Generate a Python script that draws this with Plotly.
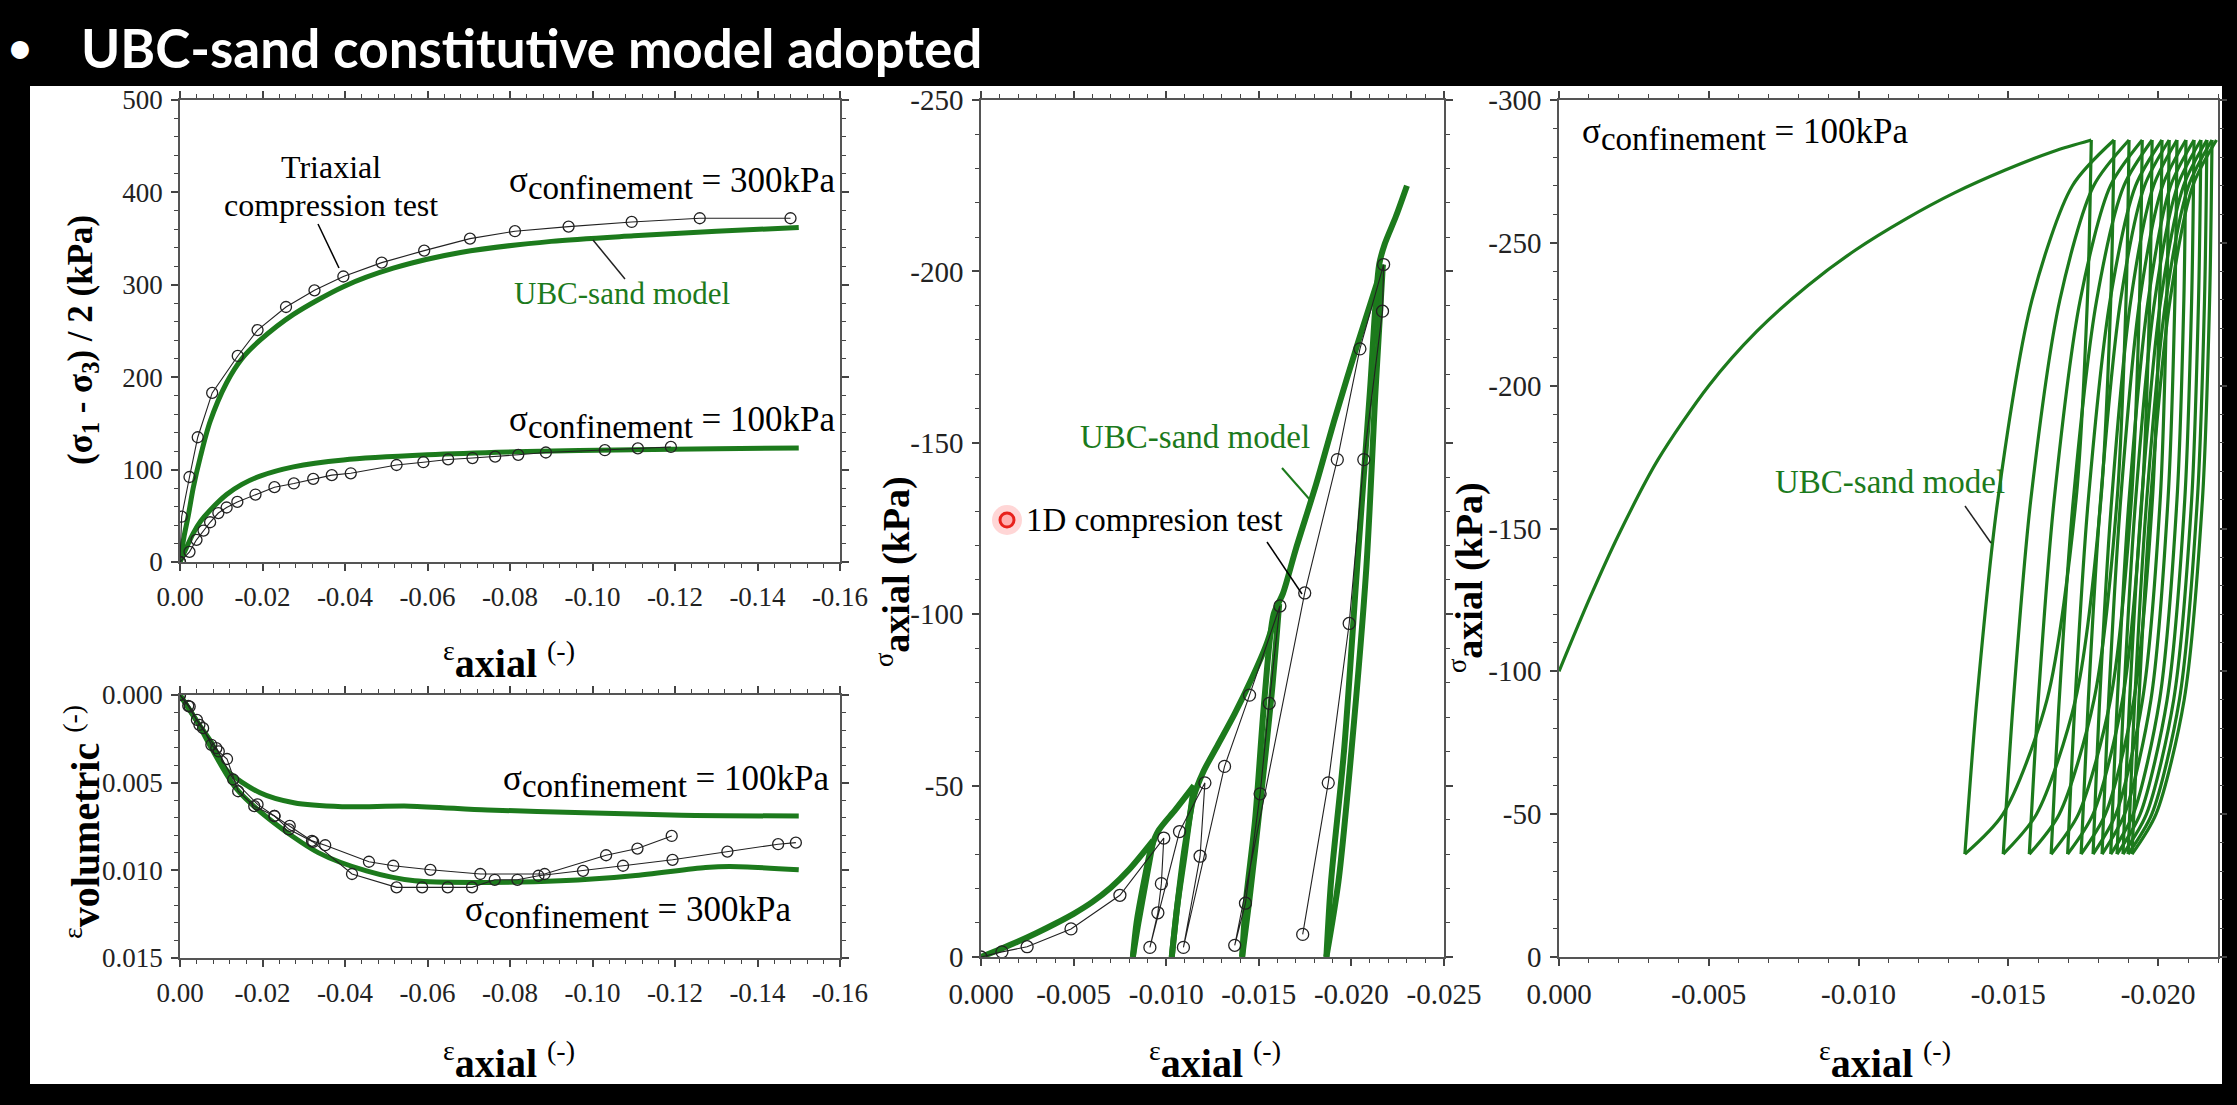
import plotly.graph_objects as go

W, H = 2237, 1105
GREEN = "#1c7a1c"
SERIF = "Liberation Serif"

# ---------------- data ----------------
# Top-left panel: (s1-s3)/2 vs axial strain
tl_test300_x = [0, -0.0004, -0.0023, -0.0043, -0.0078, -0.0140, -0.0188, -0.0257, -0.0326, -0.0396,
                -0.0489, -0.0592, -0.0703, -0.0812, -0.0942, -0.1095, -0.1260, -0.1480]
tl_test300_y = [0, 49, 92, 135, 183, 223, 251, 276, 294, 309, 324, 337, 350, 358, 363, 368, 372, 372]
tl_model300_x = [0, -0.001, -0.002, -0.0032, -0.005, -0.0073, -0.0113, -0.015, -0.0194, -0.0275,
                 -0.0396, -0.0517, -0.068, -0.09, -0.11, -0.13, -0.15]
tl_model300_y = [0, 28, 50, 80, 115, 152, 194, 220, 240, 268, 298, 318, 335, 347, 353, 358, 362]
tl_test100_x = [0, -0.0023, -0.004, -0.0057, -0.0073, -0.0093, -0.0113, -0.0139, -0.0183, -0.0229,
                -0.0276, -0.0323, -0.0368, -0.0414, -0.0525, -0.059, -0.065, -0.0709, -0.0764, -0.082,
                -0.0887, -0.103, -0.111, -0.119]
tl_test100_y = [0, 11, 24, 34, 43, 53, 59, 65, 73, 81, 85, 90, 94, 96, 105, 108, 111, 112.5, 114, 116,
                118.5, 121, 123, 124.5]
tl_model100_x = [0, -0.0015, -0.0032, -0.005, -0.0073, -0.0113, -0.015, -0.0194, -0.0275, -0.0396,
                 -0.06, -0.084, -0.11, -0.13, -0.15]
tl_model100_y = [0, 15, 31, 44, 56, 73, 84, 93, 103, 110.5, 116, 119.5, 121.5, 122.5, 123.5]

# Bottom-left panel: volumetric strain vs axial strain
bl_test300_x = [0, -0.00235, -0.0041, -0.0056, -0.0076, -0.0094, -0.0114, -0.0141, -0.018, -0.0229,
                -0.0264, -0.0323, -0.0417, -0.0525, -0.0587, -0.0649, -0.0708, -0.0763, -0.0818,
                -0.0869, -0.0977, -0.1074, -0.1194, -0.1327, -0.145, -0.1493]
bl_test300_y = [0, 0.00066, 0.00142, 0.00189, 0.00284, 0.00322, 0.00365, 0.00549, 0.00634, 0.0069,
                0.00766, 0.00838, 0.01021, 0.01097, 0.01097, 0.01097, 0.01097, 0.01054, 0.01054,
                0.01031, 0.01003, 0.00974, 0.0094, 0.00893, 0.00851, 0.00842]
bl_test100_x = [0, -0.002, -0.0047, -0.0088, -0.0129, -0.0188, -0.0229, -0.0266, -0.032, -0.0352,
                -0.0458, -0.0517, -0.0607, -0.0728, -0.0884, -0.1033, -0.1109, -0.1192]
bl_test100_y = [0, 0.00062, 0.0017, 0.00303, 0.00482, 0.00624, 0.0069, 0.00747, 0.00832, 0.00857,
                0.00951, 0.00974, 0.00997, 0.01021, 0.01021, 0.00914, 0.00876, 0.00804]
bl_model100_x = [0, -0.0041, -0.0076, -0.0112, -0.0194, -0.0276, -0.0393, -0.0558, -0.0745, -0.098,
                 -0.1215, -0.150]
bl_model100_y = [0, 0.0015, 0.0027, 0.00426, 0.00558, 0.00615, 0.00637, 0.00634, 0.00656, 0.00671,
                 0.00686, 0.0069]
bl_model300_x = [0, -0.0041, -0.0076, -0.0135, -0.0217, -0.0335, -0.0452, -0.0569, -0.0745, -0.0922,
                 -0.1098, -0.1274, -0.1333, -0.150]
bl_model300_y = [0, 0.0015, 0.00303, 0.0053, 0.00709, 0.00899, 0.01003, 0.0106, 0.01069, 0.0106,
                 0.01031, 0.00984, 0.00978, 0.00997]

# Middle panel: 1D compression with unload/reload
mid_test_x = [0, -0.00113, -0.00249, -0.00486, -0.0075, -0.00987, -0.00974, -0.00955, -0.00912,
              -0.01072, -0.01209, -0.01183, -0.01093, -0.01315, -0.0145, -0.01614, -0.01556, -0.01507,
              -0.01428, -0.0137, -0.01748, -0.01924, -0.02046, -0.02174, -0.02168, -0.02067, -0.01988,
              -0.01875, -0.01737]
mid_test_y = [0, -1.5, -3.0, -8.2, -18, -34.7, -21.4, -12.9, -2.8, -36.6, -50.8, -29.4, -2.8, -55.6,
              -76.4, -102.4, -74, -47.6, -15.7, -3.4, -106.2, -145.1, -177.4, -202, -188.4, -145.1,
              -97.3, -50.8, -6.6]
# model branches (load / unload / reload ...)
mid_model_x = [
    [0, -0.001, -0.002, -0.003, -0.004, -0.005, -0.006, -0.007, -0.008, -0.0093],
    [-0.0093, -0.0089, -0.0085, -0.0082],
    [-0.0082, -0.0084, -0.0088, -0.0092, -0.0096, -0.0105, -0.0115],
    [-0.0115, -0.0110, -0.0106, -0.0103],
    [-0.0103, -0.0106, -0.0110, -0.0115, -0.0120, -0.0128, -0.0137, -0.0146, -0.0154, -0.0161],
    [-0.0161, -0.0157, -0.0150, -0.0145, -0.0141],
    [-0.0141, -0.0143, -0.0148, -0.0153, -0.0158, -0.0163, -0.0170, -0.0181, -0.0191, -0.0204, -0.0217],
    [-0.0217, -0.0213, -0.0208, -0.0200, -0.0193, -0.01865],
    [-0.01865, -0.0189, -0.0196, -0.0203, -0.0210, -0.0215, -0.0218, -0.0224, -0.0230],
]
mid_model_y = [
    [0, -2.2, -4.5, -7.0, -9.7, -12.6, -16.0, -20.2, -25.5, -34],
    [-34, -22, -10, 0],
    [0, -10, -22, -32, -37, -43, -50],
    [-50, -30, -15, 0],
    [0, -15, -32, -47, -54, -62, -71, -81, -91, -103],
    [-103, -77, -41, -17, 0],
    [0, -16, -40, -75, -100, -106, -119, -138, -157, -180, -202],
    [-202, -165, -113, -60, -22, 0],
    [0, -22, -60, -113, -165, -202, -208, -216, -225],
]

# Right panel: cyclic loading, UBC-sand model
r_load_x = [0, -0.001, -0.002, -0.0033, -0.005, -0.0066, -0.0083, -0.0099, -0.0116, -0.0132,
            -0.0149, -0.0165, -0.01777]
r_load_y = [-100, -125, -148, -174, -200, -219, -235, -247.5, -258.5, -267.5, -275.5, -282, -286]
r_unload_y = [-286, -230, -160, -90, -50, -36]
r_unload_x = [
    [-0.01777, -0.01764, -0.01726, -0.01629, -0.01482, -0.01355],
    [-0.01853, -0.01842, -0.01809, -0.01724, -0.01594, -0.01483],
    [-0.01903, -0.01893, -0.01863, -0.01786, -0.01670, -0.01570],
    [-0.01947, -0.01938, -0.01911, -0.01841, -0.01734, -0.01643],
    [-0.01980, -0.01972, -0.01946, -0.01881, -0.01783, -0.01698],
    [-0.02013, -0.02005, -0.01981, -0.01919, -0.01824, -0.01743],
    [-0.02037, -0.02029, -0.02007, -0.01948, -0.01859, -0.01783],
    [-0.02063, -0.02056, -0.02033, -0.01976, -0.01888, -0.01813],
    [-0.02093, -0.02086, -0.02063, -0.02005, -0.01917, -0.01842],
    [-0.02120, -0.02112, -0.02089, -0.02030, -0.01940, -0.01863],
    [-0.02143, -0.02135, -0.02112, -0.02052, -0.01961, -0.01883],
    [-0.02163, -0.02155, -0.02131, -0.02071, -0.01979, -0.01900],
    [-0.02180, -0.02172, -0.02148, -0.02087, -0.01993, -0.01913],
]
r_reload_y = [-36, -90, -160, -230, -270, -286]
r_reload_x = [
    [-0.01355, -0.01395, -0.01465, -0.01579, -0.01714, -0.01853],
    [-0.01483, -0.01517, -0.01575, -0.01672, -0.01785, -0.01903],
    [-0.01570, -0.01600, -0.01653, -0.01740, -0.01841, -0.01947],
    [-0.01643, -0.01670, -0.01717, -0.01795, -0.01886, -0.01980],
    [-0.01698, -0.01723, -0.01767, -0.01840, -0.01925, -0.02013],
    [-0.01743, -0.01767, -0.01808, -0.01875, -0.01955, -0.02037],
    [-0.01783, -0.01805, -0.01845, -0.01909, -0.01985, -0.02063],
    [-0.01813, -0.01835, -0.01875, -0.01939, -0.02015, -0.02093],
    [-0.01842, -0.01864, -0.01903, -0.01967, -0.02042, -0.02120],
    [-0.01863, -0.01885, -0.01925, -0.01989, -0.02065, -0.02143],
    [-0.01883, -0.01905, -0.01945, -0.02009, -0.02085, -0.02163],
    [-0.01900, -0.01922, -0.01962, -0.02026, -0.02102, -0.02180],
    [-0.01913, -0.01936, -0.01975, -0.02040, -0.02116, -0.02195],
]

# ticks
tl_x_ticks = [0, -0.02, -0.04, -0.06, -0.08, -0.10, -0.12, -0.14, -0.16]
tl_x_text = ["0.00", "-0.02", "-0.04", "-0.06", "-0.08", "-0.10", "-0.12", "-0.14", "-0.16"]
tl_y_ticks = [0, 100, 200, 300, 400, 500]
tl_y_text = ["0", "100", "200", "300", "400", "500"]
bl_y_ticks = [0, 0.005, 0.010, 0.015]
bl_y_text = ["0.000", "0.005", "0.010", "0.015"]
mid_x_ticks = [0, -0.005, -0.010, -0.015, -0.020, -0.025]
mid_x_text = ["0.000", "-0.005", "-0.010", "-0.015", "-0.020", "-0.025"]
mid_y_ticks = [0, -50, -100, -150, -200, -250]
mid_y_text = ["0", "-50", "-100", "-150", "-200", "-250"]
r_x_ticks = [0, -0.005, -0.010, -0.015, -0.020]
r_x_text = ["0.000", "-0.005", "-0.010", "-0.015", "-0.020"]
r_y_ticks = [0, -50, -100, -150, -200, -250, -300]
r_y_text = ["0", "-50", "-100", "-150", "-200", "-250", "-300"]

# ---------------- figure ----------------
def fx(p):
    return p / W


def fy(p):
    return 1 - p / H


fig = go.Figure()


def add_line(x, y, xa, ya, color, width, shape="linear"):
    fig.add_trace(go.Scatter(x=x, y=y, xaxis=xa, yaxis=ya, mode="lines",
                             line=dict(color=color, width=width, shape=shape, smoothing=0.8),
                             showlegend=False, hoverinfo="skip"))


def add_test(x, y, xa, ya, size=11):
    fig.add_trace(go.Scatter(x=x, y=y, xaxis=xa, yaxis=ya, mode="lines+markers",
                             line=dict(color="#222", width=1.1),
                             marker=dict(symbol="circle-open", size=size, color="#222",
                                         line=dict(width=1.3)),
                             showlegend=False, hoverinfo="skip"))


# top-left
add_line(tl_model300_x, tl_model300_y, "x", "y", GREEN, 5, "spline")
add_line(tl_model100_x, tl_model100_y, "x", "y", GREEN, 5, "spline")
add_test(tl_test300_x, tl_test300_y, "x", "y")
add_test(tl_test100_x, tl_test100_y, "x", "y")
# bottom-left
add_line(bl_model100_x, bl_model100_y, "x2", "y2", GREEN, 5, "spline")
add_line(bl_model300_x, bl_model300_y, "x2", "y2", GREEN, 5, "spline")
add_test(bl_test300_x, bl_test300_y, "x2", "y2")
add_test(bl_test100_x, bl_test100_y, "x2", "y2")
# middle
for bx, by in zip(mid_model_x, mid_model_y):
    add_line(bx, by, "x3", "y3", GREEN, 6, "spline")
add_test(mid_test_x, mid_test_y, "x3", "y3", size=12)
# right
add_line(r_load_x, r_load_y, "x4", "y4", GREEN, 3.2, "spline")
for ux, rlx in zip(r_unload_x, r_reload_x):
    add_line(ux, r_unload_y, "x4", "y4", GREEN, 3.2, "spline")
    add_line(rlx, r_reload_y, "x4", "y4", GREEN, 3.2, "spline")

# axes
panels = {
    1: ([0, -0.16], [0, 500], tl_x_ticks, tl_x_text, 0.004, tl_y_ticks, tl_y_text, 20, (180, 840), (100, 562), 27),
    2: ([0, -0.16], [0.015, 0], tl_x_ticks, tl_x_text, 0.004, bl_y_ticks, bl_y_text, 0.001, (180, 840), (695, 958), 27),
    3: ([0, -0.025], [0, -250], mid_x_ticks, mid_x_text, 0.001, mid_y_ticks, mid_y_text, 10, (981, 1444), (100, 957), 29),
    4: ([0, -0.022], [0, -300], r_x_ticks, r_x_text, 0.001, r_y_ticks, r_y_text, 10, (1559, 2218), (100, 957), 29),
}


def make_axis(rng, tv, tt, mdt, dom, anchor, ticks, labels, fs, overlaying=None):
    d = dict(range=rng, domain=dom, anchor=anchor, tickmode="array", tickvals=tv, ticktext=tt,
             ticks=ticks, ticklen=7, tickwidth=1.5, tickcolor="#444", automargin=False,
             showline=True, linecolor="#555", linewidth=1.5, mirror="allticks",
             showgrid=False, zeroline=False, showticklabels=labels,
             tickfont=dict(family=SERIF, size=fs, color="#222"), ticklabelstandoff=3,
             minor=dict(tickmode="linear", tick0=0, dtick=mdt, ticks=ticks, ticklen=4,
                        tickwidth=1.2, tickcolor="#444", showgrid=False))
    if overlaying:
        d["overlaying"] = overlaying
    return d


layout_axes = {}
for i, (xr, yr, xtv, xtt, xm, ytv, ytt, ym, xd, yd, fs) in panels.items():
    xdom = [fx(xd[0]), fx(xd[1])]
    ydom = [fy(yd[1]), fy(yd[0])]
    sx = "" if i == 1 else str(i)
    layout_axes["xaxis" + sx] = make_axis(xr, xtv, xtt, xm, xdom, "y" + sx, "outside", True, fs)
    layout_axes["yaxis" + sx] = make_axis(yr, ytv, ytt, ym, ydom, "x" + sx, "outside", True, fs)
    j = i + 4
    layout_axes["xaxis%d" % j] = make_axis(xr, xtv, xtt, xm, xdom, "y" + sx, "inside", False, fs,
                                           overlaying="x" + sx)
    layout_axes["yaxis%d" % j] = make_axis(yr, ytv, ytt, ym, ydom, "x" + sx, "inside", False, fs,
                                           overlaying="y" + sx)

fig.update_layout(**layout_axes)

anns = []


def ann(text, x, y, size=33, color="black", family=SERIF, angle=0, xanchor="center", yanchor="middle"):
    anns.append(dict(text=text, x=fx(x), y=fy(y), xref="paper", yref="paper", showarrow=False,
                     font=dict(family=family, size=size, color=color), textangle=angle,
                     xanchor=xanchor, yanchor=yanchor))


# title
ann("•", 20, 46, size=48, color="white", family="Lato")
ann("<b>UBC-sand constitutive model adopted</b>", 79, 48, size=53, color="white", family="Lato",
    xanchor="left")

# axis titles
xt = "<sup>ε</sup><b>axial</b> <sup>(-)</sup>"
ann(xt, 509, 660, size=40)
ann(xt, 509, 1060, size=40)
ann(xt, 1215, 1060, size=40)
ann(xt, 1885, 1060, size=40)
ann("<b>(σ<sub>1</sub> - σ<sub>3</sub>) / 2 (kPa)</b>", 82, 340, size=35, angle=-90)
ann("<sup>ε</sup><b>volumetric</b> <sup>(-)</sup>", 82, 822, size=40, angle=-90)
ann("<sup>σ</sup><b>axial</b> <b>(kPa)</b>", 893, 572, size=38, angle=-90)
ann("<sup>σ</sup><b>axial</b> <b>(kPa)</b>", 1466, 578, size=38, angle=-90)

conf = "σ<sub><span style='font-size:33px'>confinement</span></sub> = %skPa"
ann("Triaxial", 331, 167, size=32)
ann("compression test", 331, 205, size=32)
ann(conf % "300", 672, 184, size=35)
ann("UBC-sand model", 622, 294, size=31, color=GREEN)
ann(conf % "100", 672, 422, size=35)
ann(conf % "100", 666, 781, size=35)
ann(conf % "300", 628, 912, size=35)
ann("UBC-sand model", 1195, 437, size=33, color=GREEN)
ann("1D compresion test", 1154, 520, size=33)
ann(conf % "100", 1580, 134, size=35, xanchor="left")
ann("UBC-sand model", 1890, 482, size=33, color=GREEN)

shapes = [
    dict(type="rect", xref="paper", yref="paper", x0=fx(30), x1=fx(2222), y0=fy(1084), y1=fy(86),
         fillcolor="white", line=dict(width=0), layer="below"),
]


def seg(x0, y0, x1, y1, color="black", width=1.5):
    shapes.append(dict(type="line", xref="paper", yref="paper", x0=fx(x0), y0=fy(y0), x1=fx(x1),
                       y1=fy(y1), line=dict(color=color, width=width)))


seg(318, 224, 339, 268)
seg(593, 240, 625, 279, color="#222")
seg(1282, 468, 1311, 501, color=GREEN, width=2)
seg(1267, 542, 1302, 594)
seg(1965, 506, 1991, 543, color="#222")

# red cursor highlight
cx, cy = 1007, 520
shapes.append(dict(type="circle", xref="paper", yref="paper", x0=fx(cx - 15), x1=fx(cx + 15),
                   y0=fy(cy + 15), y1=fy(cy - 15), fillcolor="rgba(255,90,90,0.25)",
                   line=dict(width=0)))
shapes.append(dict(type="circle", xref="paper", yref="paper", x0=fx(cx - 7), x1=fx(cx + 7),
                   y0=fy(cy + 7), y1=fy(cy - 7), fillcolor="#ffb0b0",
                   line=dict(color="#e8221c", width=3)))

fig.update_layout(width=W, height=H,
                  margin=dict(l=0, r=0, t=0, b=0, pad=0, autoexpand=False),
                  paper_bgcolor="black", plot_bgcolor="white",
                  annotations=anns, shapes=shapes, showlegend=False)

fig.write_html("out.html", config={"displayModeBar": False})
